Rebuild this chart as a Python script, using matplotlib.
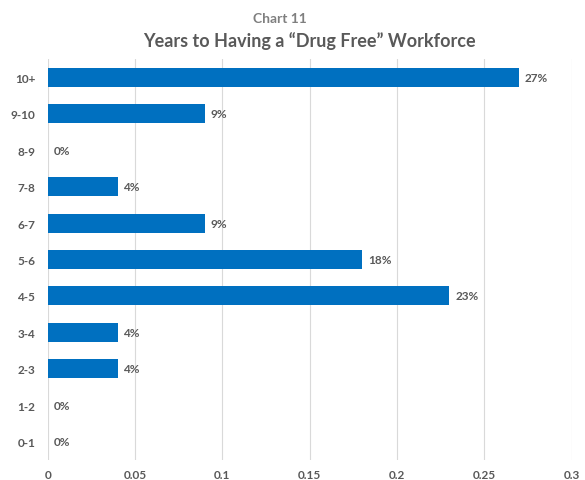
import matplotlib.pyplot as plt

# share of respondents by years to a drug free workforce
categories = ['0-1', '1-2', '2-3', '3-4', '4-5', '5-6', '6-7', '7-8', '8-9', '9-10', '10+']
shares = [0.0, 0.0, 0.04, 0.04, 0.23, 0.18, 0.09, 0.04, 0.0, 0.09, 0.27]
xticks = [0, 0.05, 0.1, 0.15, 0.2, 0.25, 0.3]
xtick_labels = ['0', '0.05', '0.1', '0.15', '0.2', '0.25', '0.3']

plt.rcParams['font.family'] = ['Lato', 'DejaVu Sans']
text_col = '#595959'

fig = plt.figure(figsize=(5.85, 4.81), dpi=100)
ax = fig.add_axes([0.0815, 0.0416, 0.8957, 0.8337])

pos = range(len(categories))
bars = ax.barh(pos, shares, height=0.52, color='#0070C0', zorder=3)

for b, v in zip(bars, shares):
    ax.text(v + 0.0033, b.get_y() + b.get_height() / 2, f'{v * 100:.0f}%',
            va='center', ha='left', fontsize=8.5, fontweight='bold', color=text_col)

ax.set_xlim(0, 0.3)
ax.set_ylim(-0.5, len(categories) - 0.5)
ax.set_yticks(list(pos))
ax.set_yticklabels(categories)
ax.set_xticks(xticks)
ax.set_xticklabels(xtick_labels)
ax.tick_params(length=0, labelsize=8.5, labelcolor=text_col)
ax.tick_params(axis='y', pad=9)
ax.tick_params(axis='x', pad=6.5)
for lbl in ax.get_xticklabels() + ax.get_yticklabels():
    lbl.set_fontweight('bold')

ax.grid(axis='x', color='#d9d9d9', linewidth=0.8, zorder=0)
for s in ax.spines.values():
    s.set_visible(False)

fig.text(280 / 585, 1 - 19 / 481, 'Chart 11', ha='center', va='center',
         fontsize=10, fontweight='bold', color='#7f7f7f')
fig.text(309 / 585, 1 - 41 / 481, 'Years to Having a \u201cDrug Free\u201d Workforce',
         ha='center', va='center', fontsize=13, fontweight='bold', color=text_col)

fig.savefig('out.png', dpi=100)
